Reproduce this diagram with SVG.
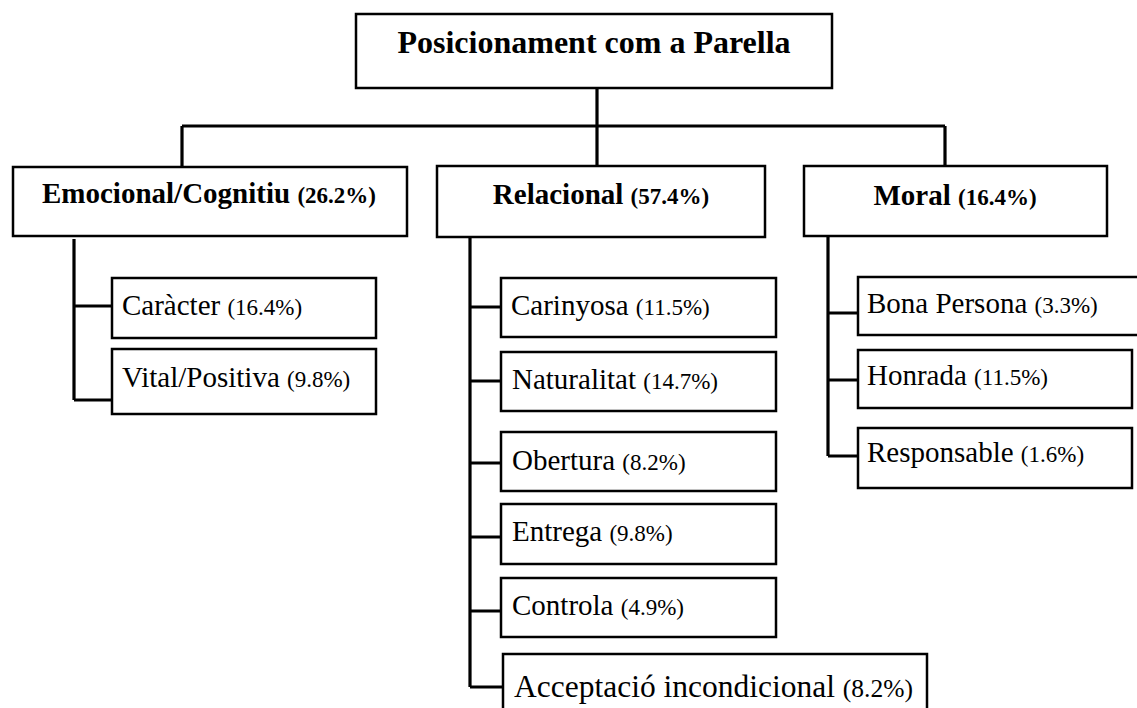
<svg xmlns="http://www.w3.org/2000/svg" width="1137" height="708" viewBox="0 0 1137 708">
<style>
.box{fill:#fff;stroke:#000;stroke-width:2.5}
.c{fill:none;stroke:#000;stroke-width:3.2}
text{font-family:"Liberation Serif","Times New Roman",serif;fill:#000}
.t{font-size:32px;font-weight:bold}
.h{font-size:29px;font-weight:bold}
.hp{font-size:23px;font-weight:bold}
.s{font-size:29px}
.sp{font-size:23px}
.sl{font-size:31.5px}
.spl{font-size:25.5px}
</style>
<rect width="1137" height="708" fill="#fff"/>
<g id="connectors">
<path class="c" d="M597 88V166M182 126H945M182 126V166M945 126V166"/>
<path class="c" d="M74 239V400M74 306H112M74 400H112"/>
<path class="c" d="M470 237V687M470 307H501M470 381H501M470 463H501M470 537H501M470 611H501M470 687H503"/>
<path class="c" d="M828 236V456M828 313H858M828 380H858M828 456H858"/>
</g>
<g id="root"><rect class="box" x="356" y="14" width="476" height="74"/><text class="t" x="594" y="53" text-anchor="middle">Posicionament com a Parella</text></g>
<g id="emocional"><rect class="box" x="13" y="167" width="394" height="69"/><text x="209" y="203" text-anchor="middle"><tspan class="h">Emocional/Cognitiu </tspan><tspan class="hp">(26.2%)</tspan></text></g>
<g id="relacional"><rect class="box" x="437" y="166" width="328" height="71"/><text x="601" y="204" text-anchor="middle"><tspan class="h">Relacional </tspan><tspan class="hp">(57.4%)</tspan></text></g>
<g id="moral"><rect class="box" x="804" y="166" width="303" height="70"/><text x="955" y="205" text-anchor="middle"><tspan class="h">Moral </tspan><tspan class="hp">(16.4%)</tspan></text></g>
<g id="caracter"><rect class="box" x="112" y="278" width="264" height="60"/><text x="122" y="315"><tspan class="s">Caràcter </tspan><tspan class="sp">(16.4%)</tspan></text></g>
<g id="vital"><rect class="box" x="112" y="349" width="264" height="65"/><text x="122" y="387"><tspan class="s">Vital/Positiva </tspan><tspan class="sp">(9.8%)</tspan></text></g>
<g id="carinyosa"><rect class="box" x="501" y="278" width="275" height="59"/><text x="511" y="315"><tspan class="s">Carinyosa </tspan><tspan class="sp">(11.5%)</tspan></text></g>
<g id="naturalitat"><rect class="box" x="501" y="352" width="275" height="59"/><text x="512" y="389"><tspan class="s">Naturalitat </tspan><tspan class="sp">(14.7%)</tspan></text></g>
<g id="obertura"><rect class="box" x="501" y="432" width="275" height="59"/><text x="512" y="470"><tspan class="s">Obertura </tspan><tspan class="sp">(8.2%)</tspan></text></g>
<g id="entrega"><rect class="box" x="501" y="504" width="275" height="60"/><text x="512" y="541"><tspan class="s">Entrega </tspan><tspan class="sp">(9.8%)</tspan></text></g>
<g id="controla"><rect class="box" x="501" y="578" width="275" height="59"/><text x="512" y="615"><tspan class="s">Controla </tspan><tspan class="sp">(4.9%)</tspan></text></g>
<g id="acceptacio"><rect class="box" x="503" y="654" width="424" height="70"/><text x="514" y="697"><tspan class="sl">Acceptació incondicional </tspan><tspan class="spl">(8.2%)</tspan></text></g>
<g id="bona"><rect class="box" x="858" y="277" width="290" height="58"/><text x="867" y="313"><tspan class="s">Bona Persona </tspan><tspan class="sp">(3.3%)</tspan></text></g>
<g id="honrada"><rect class="box" x="858" y="350" width="274" height="58"/><text x="867" y="385"><tspan class="s">Honrada </tspan><tspan class="sp">(11.5%)</tspan></text></g>
<g id="responsable"><rect class="box" x="858" y="428" width="274" height="60"/><text x="867" y="462"><tspan class="s">Responsable </tspan><tspan class="sp">(1.6%)</tspan></text></g>
</svg>
